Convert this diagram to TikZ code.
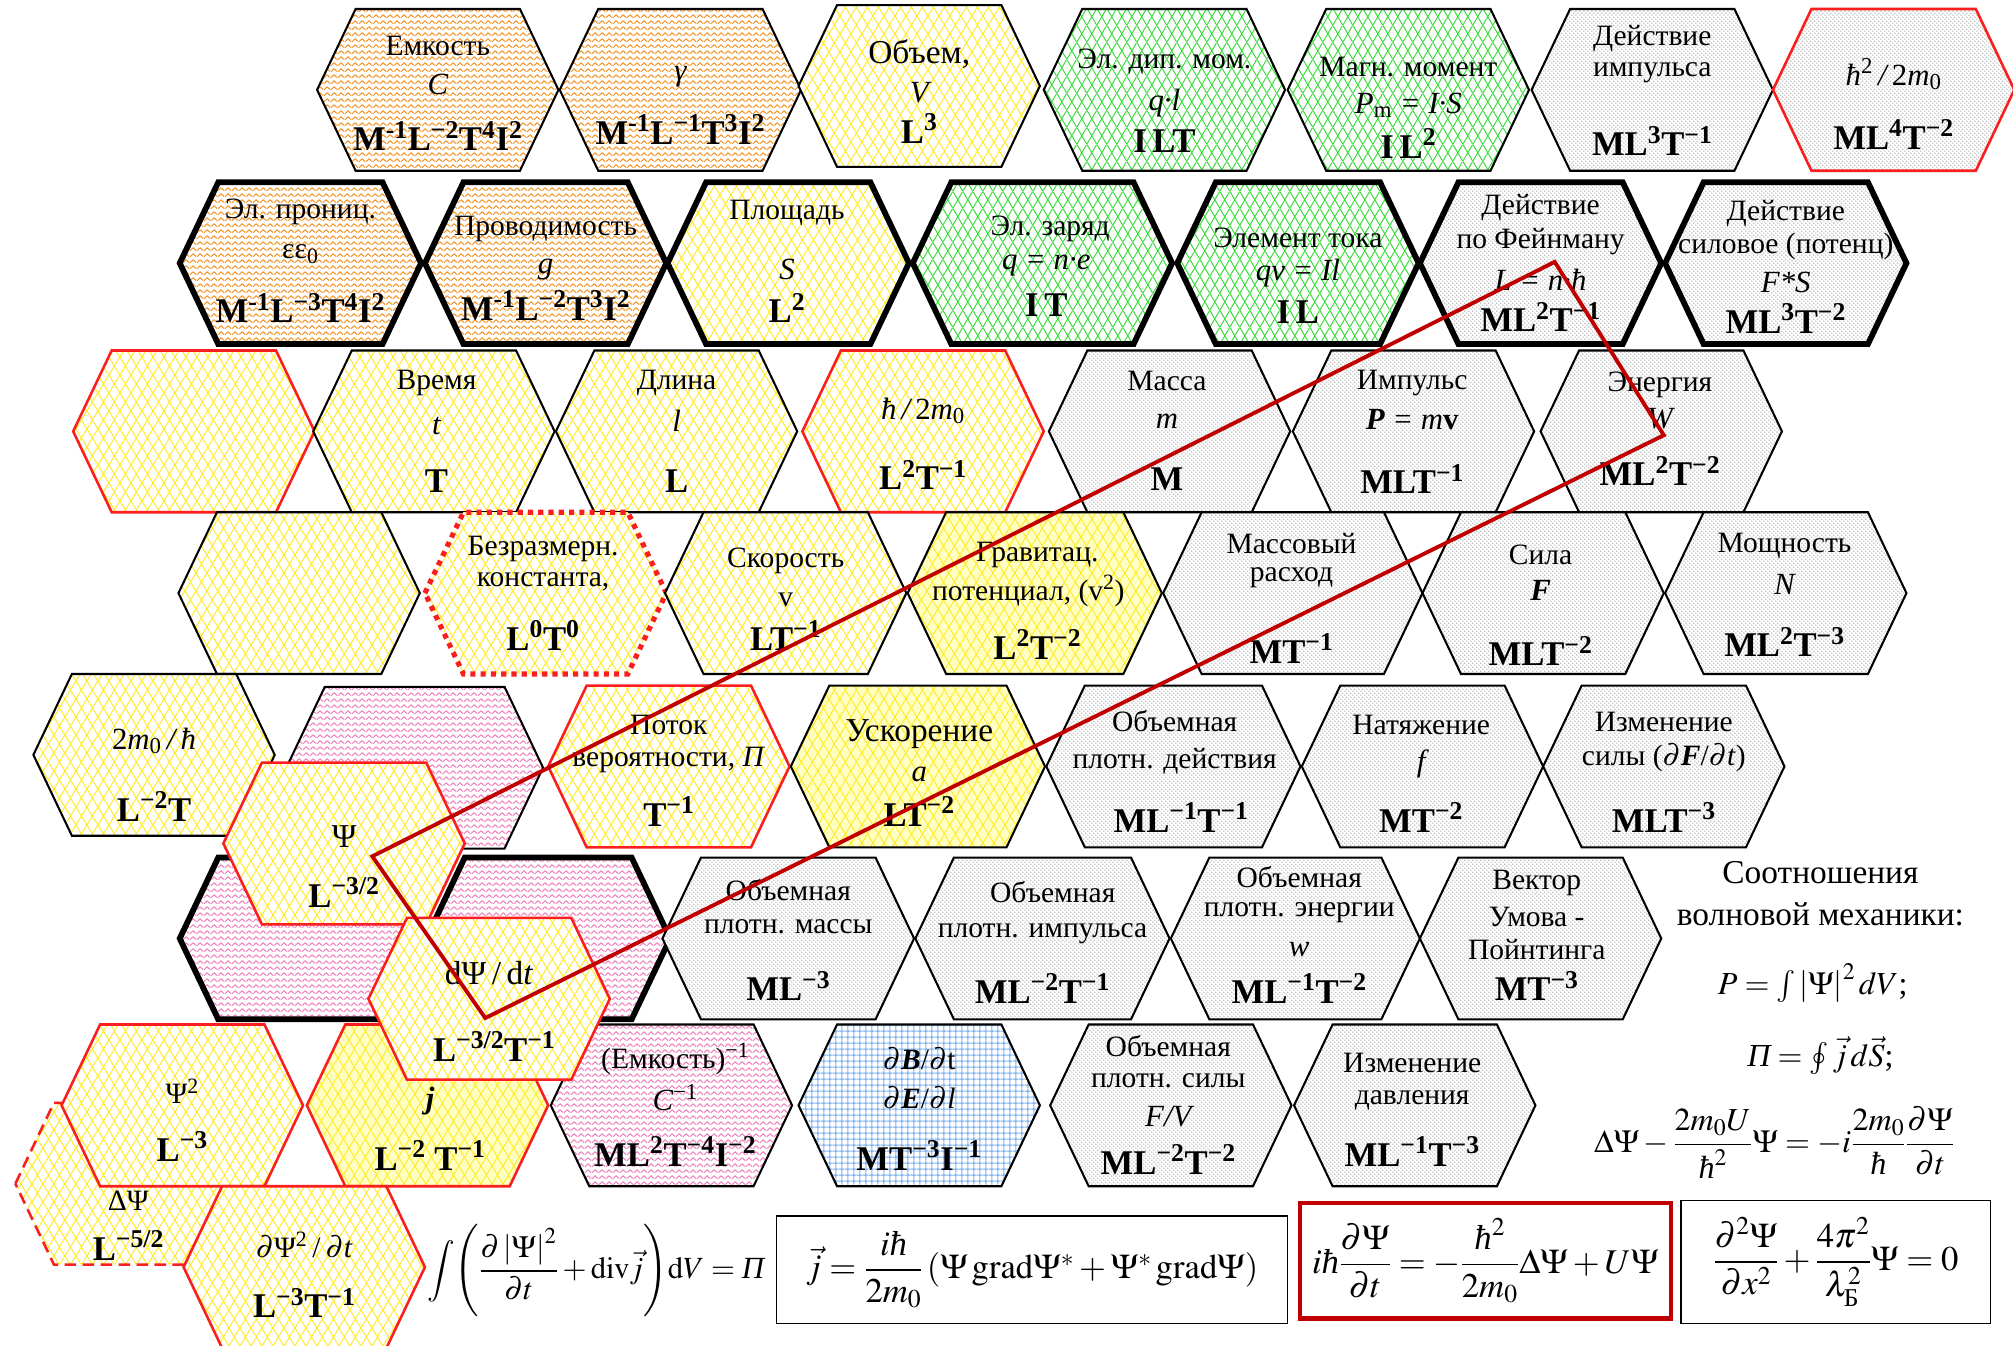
\documentclass[tikz,border=0pt]{standalone}
\usepackage{amsmath}
\usepackage{mathptmx}
\usepackage[no-math]{fontspec}
\setmainfont{Liberation Serif}
\usetikzlibrary{patterns}

\definecolor{orangeZ}{RGB}{245,150,40}
\definecolor{yelZ}{RGB}{255,235,40}
\definecolor{greenZ}{RGB}{50,220,50}
\definecolor{grayD}{RGB}{95,95,95}
\definecolor{pinkZ}{RGB}{240,130,190}
\definecolor{blueZ}{RGB}{110,170,240}
\definecolor{lightyel}{RGB}{255,255,195}
\definecolor{redB}{RGB}{250,30,30}
\definecolor{darkred}{RGB}{192,0,0}

\pgfdeclarepatternformonly{zigzag}{\pgfpointorigin}{\pgfpoint{5.5pt}{4.8pt}}{\pgfpoint{5.5pt}{4.8pt}}{%
\pgfsetlinewidth{0.85pt}\pgfsetroundjoin
\pgfpathmoveto{\pgfpoint{0pt}{1.1pt}}\pgfpathlineto{\pgfpoint{2.75pt}{3.7pt}}\pgfpathlineto{\pgfpoint{5.5pt}{1.1pt}}\pgfusepath{stroke}}
\pgfdeclarepatternformonly{diamY}{\pgfpointorigin}{\pgfpoint{8.5pt}{14pt}}{\pgfpoint{8.5pt}{14pt}}{%
\pgfsetlinewidth{0.75pt}
\pgfpathmoveto{\pgfpoint{0pt}{0pt}}\pgfpathlineto{\pgfpoint{8.5pt}{14pt}}
\pgfpathmoveto{\pgfpoint{8.5pt}{0pt}}\pgfpathlineto{\pgfpoint{0pt}{14pt}}
\pgfusepath{stroke}}
\pgfdeclarepatternformonly{diamG}{\pgfpointorigin}{\pgfpoint{8pt}{13pt}}{\pgfpoint{8pt}{13pt}}{%
\pgfsetlinewidth{0.75pt}
\pgfpathmoveto{\pgfpoint{0pt}{0pt}}\pgfpathlineto{\pgfpoint{8pt}{13pt}}
\pgfpathmoveto{\pgfpoint{8pt}{0pt}}\pgfpathlineto{\pgfpoint{0pt}{13pt}}
\pgfusepath{stroke}}
\pgfdeclarepatternformonly{mydots}{\pgfpointorigin}{\pgfpoint{3.4pt}{3.4pt}}{\pgfpoint{3.4pt}{3.4pt}}{%
\pgfpathcircle{\pgfpoint{0.85pt}{0.85pt}}{0.45pt}
\pgfpathcircle{\pgfpoint{2.55pt}{2.55pt}}{0.45pt}
\pgfusepath{fill}}
\pgfdeclarepatternformonly{mygrid}{\pgfpointorigin}{\pgfpoint{4.5pt}{4.5pt}}{\pgfpoint{4.5pt}{4.5pt}}{%
\pgfsetlinewidth{0.8pt}
\pgfpathmoveto{\pgfpoint{0pt}{2.25pt}}\pgfpathlineto{\pgfpoint{4.5pt}{2.25pt}}
\pgfpathmoveto{\pgfpoint{2.25pt}{0pt}}\pgfpathlineto{\pgfpoint{2.25pt}{4.5pt}}
\pgfusepath{stroke}}

\newcommand{\fN}{\fontsize{23}{26}\selectfont}
\newcommand{\fB}{\fontsize{26}{29}\selectfont}
\newcommand{\fS}{\fontsize{24}{28}\selectfont\itshape}
\newcommand{\fD}{\fontsize{27}{30}\selectfont\bfseries}
\newcommand{\fE}{\fontsize{27}{31}\selectfont}
\newcommand{\fF}{\fontsize{25}{29}\selectfont}
\newcommand{\fG}{\fontsize{24}{28}\selectfont}
\newcommand{\ssup}[1]{\textsuperscript{#1}}
\newcommand{\hh}{\text{\itshape ħ}}
% hexagon: style, cx, cy, half width
\newcommand{\hexb}[4]{\path[#1] ({#2-#4},{#3}) -- ++(30,-63) -- ++({2*#4-60},0) -- ++(30,63) -- ++(-30,63) -- ++({60-2*#4},0) -- cycle;}
\newcommand{\hexa}[3]{\hexb{#1}{#2}{#3}{94}}
\newcommand{\tline}[5]{\node[inner sep=0pt,font=#4] (#1) at (#2,#3) {#5};}

\tikzset{
 hb/.style={preaction={fill=white}, draw=black, line width=1.6pt, line join=miter},
 thk/.style={line width=4.5pt},
 redb/.style={draw=redB, line width=2pt},
 orng/.style={hb, pattern=zigzag, pattern color=orangeZ},
 pnkh/.style={hb, pattern=zigzag, pattern color=pinkZ},
 yelh/.style={hb, pattern=diamY, pattern color=yelZ},
 lyelh/.style={hb, preaction={fill=lightyel}, pattern=diamY, pattern color=yelZ},
 grnh/.style={hb, pattern=diamG, pattern color=greenZ},
 gryh/.style={hb, pattern=mydots, pattern color=grayD},
 bluh/.style={hb, pattern=mygrid, pattern color=blueZ},
 eqbox/.style={draw=black, line width=1.2pt, inner sep=0pt, font=\fE},
 redline/.style={draw=darkred, line width=3pt, line join=miter}
}

\begin{document}
\begin{tikzpicture}[x=1pt,y=-1pt]
\useasboundingbox (0,0) rectangle (1568,1048);
\fill[white] (0,0) rectangle (1568,1048);

% ---------- Row 1
\hexa{orng}{341}{70}
\tline{t11a}{341}{36}{\fN}{Емкость}
\tline{t11b}{341}{66}{\fS}{C}
\tline{t11c}{341}{106}{\fD}{M\ssup{-1}L\ssup{−2}T\ssup{4}I\ssup{2}}
\hexa{orng}{530}{70}
\tline{t12a}{530}{60}{\fS}{γ}
\tline{t12b}{530}{101}{\fD}{M\ssup{-1}L\ssup{−1}T\ssup{3}I\ssup{2}}
\hexa{yelh}{716}{67}
\tline{t13a}{716}{42}{\fB}{Объем,}
\tline{t13b}{716}{72}{\fS}{V}
\tline{t13c}{716}{100}{\fD}{L\ssup{3}}
\hexa{grnh}{907}{70}
\tline{t14a}{907}{48}{\fN}{Эл. дип. мом.}
\tline{t14b}{907}{80}{\fS}{q·l}
\tline{t14c}{907}{110}{\fD}{I\,LT}
\hexa{grnh}{1097}{70}
\tline{t15a}{1097}{52}{\fN}{Магн. момент}
\tline{t15b}{1097}{82}{\fS}{P\textsubscript{\upshape m} = I·S}
\tline{t15c}{1097}{112}{\fD}{I\,L\ssup{2}}
\hexa{gryh}{1287}{70}
\tline{t16a}{1287}{30}{\fN}{Действие}
\tline{t16b}{1287}{57}{\fN}{импульса}
\tline{t16c}{1287}{110}{\fD}{ML\ssup{3}T\ssup{−1}}
\hexa{gryh,redb}{1475}{70}
\tline{t17a}{1475}{58}{\fS}{ħ\ssup{\upshape 2}\,/\,{\upshape 2}m\textsubscript{\upshape 0}}
\tline{t17b}{1475}{105}{\fD}{ML\ssup{4}T\ssup{−2}}

% ---------- Row 2
\hexa{orng,thk}{234}{205}
\tline{t21a}{234}{165}{\fN}{Эл. прониц.}
\tline{t21b}{234}{198}{\fN}{εε\textsubscript{0}}
\tline{t21c}{234}{240}{\fD}{M\ssup{-1}L\ssup{−3}T\ssup{4}I\ssup{2}}
\hexa{orng,thk}{425}{205}
\tline{t22a}{425}{178}{\fN}{Проводимость}
\tline{t22b}{425}{210}{\fS}{g}
\tline{t22c}{425}{238}{\fD}{M\ssup{-1}L\ssup{−2}T\ssup{3}I\ssup{2}}
\hexa{yelh,thk}{614}{205}
\tline{t23a}{613}{166}{\fN}{Площадь}
\tline{t23b}{613}{210}{\fS}{S}
\tline{t23c}{613}{240}{\fD}{L\ssup{2}}
\hexb{grnh,thk}{812}{205}{101}
\tline{t24a}{818}{178}{\fN}{Эл. заряд}
\tline{t24b}{815}{207}{\fS}{q = n·e}
\tline{t24c}{815}{238}{\fD}{I\,T}
\hexa{grnh,thk}{1011}{205}
\tline{t25a}{1011}{185}{\fN}{Элемент тока}
\tline{t25b}{1011}{213}{\fS}{qv = Il}
\tline{t25c}{1011}{243}{\fD}{I\,L}
\hexa{gryh,thk}{1200}{205}
\tline{t26a}{1200}{162}{\fN}{Действие}
\tline{t26b}{1200}{188}{\fN}{по Фейнману}
\tline{t26c}{1200}{218}{\fS}{L = n·ħ}
\tline{t26d}{1200}{247}{\fD}{ML\ssup{2}T\ssup{−1}}
\hexa{gryh,thk}{1391}{205}
\tline{t27a}{1391}{166}{\fN}{Действие}
\tline{t27b}{1391}{192}{\fN}{силовое (потенц)}
\tline{t27c}{1391}{220}{\fS}{F*S}
\tline{t27d}{1391}{248}{\fD}{ML\ssup{3}T\ssup{−2}}

% ---------- Row 3
\hexa{yelh,redb}{151}{336}
\hexa{yelh}{338}{336}
\tline{t32a}{340}{298}{\fN}{Время}
\tline{t32b}{340}{332}{\fS}{t}
\tline{t32c}{340}{375}{\fD}{T}
\hexa{yelh}{527}{336}
\tline{t33a}{527}{298}{\fN}{Длина}
\tline{t33b}{527}{328}{\fS}{l}
\tline{t33c}{527}{375}{\fD}{L}
\hexa{yelh,redb}{719}{336}
\tline{t34a}{719}{320}{\fS}{ħ\,/\,{\upshape 2}m\textsubscript{\upshape 0}}
\tline{t34b}{719}{370}{\fD}{L\ssup{2}T\ssup{−1}}
\hexa{gryh}{911}{336}
\tline{t35a}{909}{297}{\fN}{Масса}
\tline{t35b}{909}{328}{\fS}{m}
\tline{t35c}{909}{373}{\fD}{M}
\hexa{gryh}{1101}{336}
\tline{t36a}{1100}{298}{\fN}{Импульс}
\tline{t36b}{1100}{327}{\fS}{\textbf{P} = m\textbf{\upshape v}}
\tline{t36c}{1100}{373}{\fD}{MLT\ssup{−1}}
\hexa{gryh}{1294}{336}
\tline{t37a}{1293}{300}{\fN}{Энергия}
\tline{t37b}{1293}{326}{\fS}{W}
\tline{t37c}{1293}{367}{\fD}{ML\ssup{2}T\ssup{−2}}

% ---------- Row 4
\hexa{yelh}{233}{462}
\hexa{yelh,draw=redB,line width=4pt,dash pattern=on 4pt off 4pt}{425}{462}
\tline{t42a}{423}{428}{\fN}{Безразмерн.}
\tline{t42b}{423}{453}{\fN}{константа,}
\tline{t42c}{423}{495}{\fD}{L\ssup{0}T\ssup{0}}
\hexa{yelh}{612}{462}
\tline{t43a}{612}{437}{\fN}{Скорость}
\tline{t43b}{612}{467}{\fN}{v}
\tline{t43c}{612}{495}{\fD}{LT\ssup{−1}}
\hexb{lyelh}{806}{462}{99}
\tline{t44a}{808}{432}{\fN}{Гравитац.}
\tline{t44b}{801}{460}{\fN}{потенциал, (v\ssup{2})}
\tline{t44c}{808}{502}{\fD}{L\ssup{2}T\ssup{−2}}
\hexb{gryh}{1007}{462}{101}
\tline{t45a}{1006}{423}{\fN}{Массовый}
\tline{t45b}{1006}{450}{\fN}{расход}
\tline{t45c}{1006}{505}{\fD}{MT\ssup{−1}}
\hexa{gryh}{1202}{462}
\tline{t46a}{1200}{432}{\fN}{Сила}
\tline{t46b}{1200}{460}{\fS}{\textbf{F}}
\tline{t46c}{1200}{507}{\fD}{MLT\ssup{−2}}
\hexa{gryh}{1391}{462}
\tline{t47a}{1390}{425}{\fN}{Мощность}
\tline{t47b}{1390}{455}{\fS}{N}
\tline{t47c}{1390}{500}{\fD}{ML\ssup{2}T\ssup{−3}}

% ---------- Row 5
\hexa{yelh}{120}{588}
\tline{t51a}{120}{577}{\fS}{{\upshape 2}m\textsubscript{\upshape 0}\,/\,ħ}
\tline{t51b}{120}{628}{\fD}{L\ssup{−2}T}
\hexb{pnkh}{323}{598}{100}
\hexa{yelh,redb}{521}{597}
\tline{t53a}{521}{565}{\fN}{Поток}
\tline{t53b}{521}{592}{\fN}{вероятности, \textit{Π}}
\tline{t53c}{521}{632}{\fD}{T\ssup{−1}}
\hexb{lyelh}{715}{597}{99}
\tline{t54a}{716}{572}{\fB}{Ускорение}
\tline{t54b}{716}{603}{\fS}{a}
\tline{t54c}{716}{632}{\fD}{LT\ssup{−2}}
\hexb{gryh}{914}{597}{99}
\tline{t55a}{915}{562}{\fN}{Объемная}
\tline{t55b}{915}{593}{\fN}{плотн. действия}
\tline{t55c}{920}{637}{\fD}{ML\ssup{−1}T\ssup{−1}}
\hexa{gryh}{1108}{597}
\tline{t56a}{1107}{565}{\fN}{Натяжение}
\tline{t56b}{1107}{595}{\fS}{f}
\tline{t56c}{1107}{637}{\fD}{MT\ssup{−2}}
\hexa{gryh}{1296}{597}
\tline{t57a}{1296}{562}{\fN}{Изменение}
\tline{t57b}{1296}{590}{\fN}{силы ($\partial$\textbf{\textit{F}}/$\partial$\textit{t})}
\tline{t57c}{1296}{637}{\fD}{MLT\ssup{−3}}

% ---------- Row 6
\hexb{pnkh,thk}{240}{731}{100}
\hexb{pnkh,thk}{427}{731}{95}
\hexb{gryh}{614}{731}{98}
\tline{t63a}{614}{693}{\fN}{Объемная}
\tline{t63b}{614}{722}{\fN}{плотн. массы}
\tline{t63c}{614}{768}{\fD}{ML\ssup{−3}}
\hexb{gryh}{812}{731}{99}
\tline{t64a}{820}{695}{\fN}{Объемная}
\tline{t64b}{812}{727}{\fN}{плотн. импульса}
\tline{t64c}{812}{770}{\fD}{ML\ssup{−2}T\ssup{−1}}
\hexb{gryh}{1009}{731}{97}
\tline{t65a}{1012}{683}{\fN}{Объемная}
\tline{t65b}{1012}{711}{\fN}{плотн. энергии}
\tline{t65c}{1012}{740}{\fS}{w}
\tline{t65d}{1012}{770}{\fD}{ML\ssup{−1}T\ssup{−2}}
\hexa{gryh}{1200}{731}
\tline{t66a}{1197}{688}{\fN}{Вектор}
\tline{t66b}{1197}{714}{\fN}{Умова -}
\tline{t66c}{1197}{740}{\fN}{Пойнтинга}
\tline{t66d}{1197}{768}{\fD}{MT\ssup{−3}}

% ---------- Row 7 / 8
\hexa{yelh,draw=redB,line width=2pt,dash pattern=on 9pt off 5pt}{106}{922}
\tline{t81a}{100}{935}{\fN}{ΔΨ}
\tline{t81b}{100}{970}{\fD}{L\ssup{−5/2}}
\hexa{yelh,redb}{142}{861}
\tline{t71a}{142}{850}{\fN}{Ψ\ssup{2}}
\tline{t71b}{142}{893}{\fD}{L\ssup{−3}}
\hexa{lyelh,redb}{333}{861}
\tline{t72a}{335}{858}{\fS}{\textbf{j}}
\tline{t72b}{335}{900}{\fD}{L\ssup{−2} T\ssup{−1}}
\hexa{pnkh}{523}{861}
\tline{t73a}{526}{825}{\fN}{(Емкость)\ssup{−1}}
\tline{t73b}{526}{855}{\fS}{C\ssup{\upshape −1}}
\tline{t73c}{526}{897}{\fD}{ML\ssup{2}T\ssup{−4}I\ssup{−2}}
\hexa{bluh}{716}{861}
\tline{t74a}{716}{825}{\fN}{$\partial$\textbf{\textit{B}}/$\partial$t}
\tline{t74b}{716}{855}{\fN}{$\partial$\textbf{\textit{E}}/$\partial$\textit{l}}
\tline{t74c}{716}{900}{\fD}{MT\ssup{−3}I\ssup{−1}}
\hexa{gryh}{912}{861}
\tline{t75a}{910}{815}{\fN}{Объемная}
\tline{t75b}{910}{842}{\fN}{плотн. силы}
\tline{t75c}{910}{870}{\fS}{F/V}
\tline{t75d}{910}{903}{\fD}{ML\ssup{−2}T\ssup{−2}}
\hexa{gryh}{1102}{861}
\tline{t76a}{1100}{828}{\fN}{Изменение}
\tline{t76b}{1100}{857}{\fN}{давления}
\tline{t76c}{1100}{897}{\fD}{ML\ssup{−1}T\ssup{−3}}
\hexa{yelh,redb}{237}{987}
\tline{t82a}{237}{970}{\fN}{$\partial$Ψ\ssup{2}\,/\,$\partial$\textit{t}}
\tline{t82b}{237}{1015}{\fD}{L\ssup{−3}T\ssup{−1}}

% ---------- Psi hexes
\hexa{yelh,redb}{268}{657}
\tline{t61a}{268}{652}{\fB}{Ψ}
\tline{t61b}{268}{695}{\fD}{L\ssup{−3/2}}
\hexa{yelh,redb}{381}{778}
\tline{t62a}{381}{758}{\fB}{dΨ\,/\,d\textit{t}}
\tline{t62b}{385}{815}{\fD}{L\ssup{−3/2}T\ssup{−1}}

% ---------- red polygon
\coordinate (p1) at (290,667);
\coordinate (p2) at (1211,204);
\coordinate (p3) at (1296,339);
\coordinate (p4) at (378,793);
\draw[redline] (p1) -- (p2) -- (p3) -- (p4) -- cycle;

% ---------- right text
\tline{r1}{1418}{680}{\fB}{Соотношения}
\tline{r2}{1418}{712}{\fB}{волновой механики:}
\node[inner sep=0pt,font=\fF] (r3) at (1412,766) {$P=\int\left|\Psi\right|^2dV$;};
\node[inner sep=0pt,font=\fF] (r4) at (1418,822) {$\textit{Π}=\oint\vec{j}\,d\vec{S}$;};
\node[inner sep=0pt,font=\fF] (r5) at (1382,890) {$\Delta\Psi-\dfrac{2m_0U}{\hh^2}\Psi=-i\dfrac{2m_0}{\hh}\dfrac{\partial\Psi}{\partial t}$};

% ---------- bottom equations
\node[inner sep=0pt,font=\fG] (e0) at (464,990) {$\displaystyle\int\!\left(\frac{\partial\left|\Psi\right|^2}{\partial t}+\mathrm{div}\vec{j}\right)\!\mathrm{d}V=\textit{Π}$};
\node[eqbox, minimum width=398pt, minimum height=84pt] (e1) at (804,989) {$\vec{j}=\dfrac{i\hh}{2m_0}\left(\Psi\,\mathrm{grad}\Psi^{*}+\Psi^{*}\,\mathrm{grad}\Psi\right)$};
\node[eqbox, draw=darkred, line width=3.5pt, minimum width=289pt, minimum height=90pt] (e2) at (1157,982) {$i\hh\dfrac{\partial\Psi}{\partial t}=-\dfrac{\hh^2}{2m_0}\Delta\Psi+U\Psi$};
\node[eqbox, minimum width=241pt, minimum height=96pt] (e3) at (1430,983) {$\dfrac{\partial^2\Psi}{\partial x^2}+\dfrac{4\pi^2}{\lambda_{\text{Б}}^2}\Psi=0$};
\end{tikzpicture}
\end{document}
